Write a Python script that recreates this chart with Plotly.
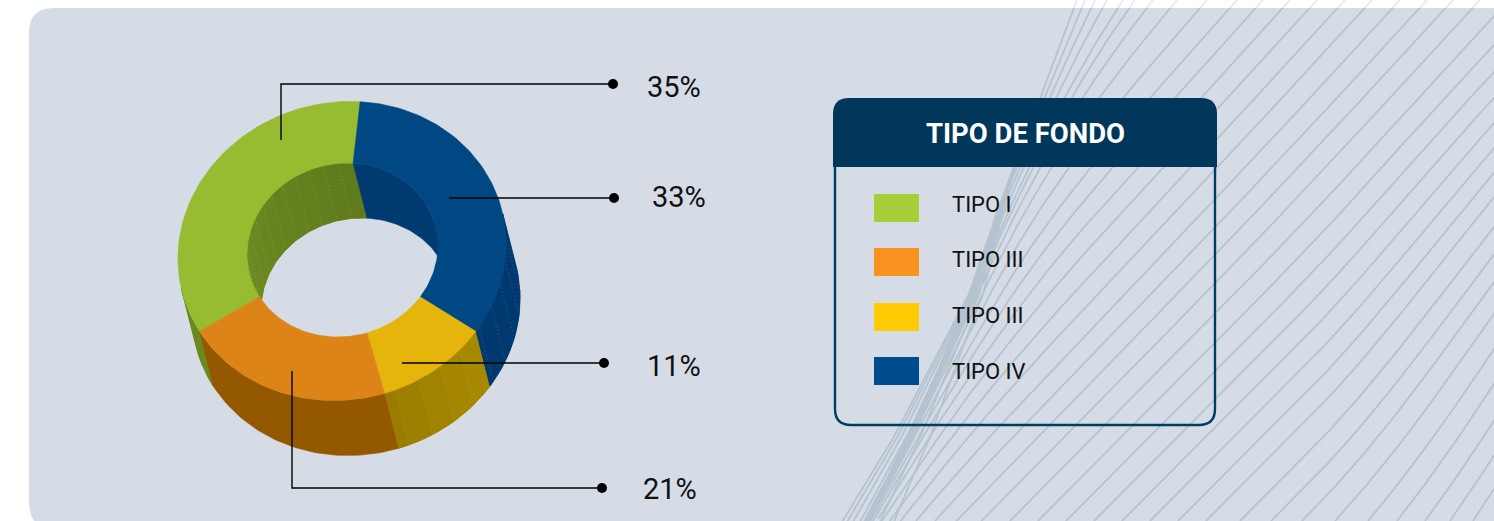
import numpy as np
import plotly.graph_objects as go

# ---- chart data -------------------------------------------------------
categories = ["TIPO I", "TIPO III", "TIPO III", "TIPO IV"]
shares = [35, 21, 11, 33]
face_colors = ["#97bb31", "#dd8418", "#e5b50b", "#004884"]
swatch_colors = ["#a6ce39", "#f7931e", "#ffcb05", "#004b8d"]
outer_wall_colors = [("#5f7b1c", "#6a8a20"), ("#945900", "#945900"),
                     ("#997c00", "#a88a00"), ("#00396f", "#003a72")]
inner_wall_colors = [("#5f7a1c", "#728f22"), ("#945900", "#945900"),
                     ("#997c00", "#997c00"), ("#003a70", "#003a70")]
legend_title = "TIPO DE FONDO"

# ---- donut geometry, in page pixels -----------------------------------
OUTER = dict(cx=342.0, cy=251.0, a=164.0, b=149.5, skew=-3.9)
INNER = dict(cx=342.5, cy=250.0, a=95.5, b=87.0, skew=-2.3)
DEPTH = np.array([14.0, 55.0])
START_DEG = 365.0     # clockwise from twelve o'clock; slices run counter-clockwise
FACET_DEG = 9.0
SEAMED_OUTER = {2, 3}
SEAMED_INNER = {0}
SEAM_COLOR = "rgba(255,255,255,0.12)"
TEXT_FONT = "Roboto"


def ring_point(ring, deg):
    t = np.radians(deg)
    ux, uy = np.sin(t), -np.cos(t)
    return (ring["cx"] + ring["a"] * ux + ring["skew"] * uy,
            ring["cy"] + ring["skew"] * ux + ring["b"] * uy)


def arc(ring, d0, d1, step=1.5):
    n = max(2, int(abs(d1 - d0) / step) + 1)
    return ring_point(ring, np.linspace(d0, d1, n))


def mix(c0, c1, f):
    p = [int(c0[i:i + 2], 16) for i in (1, 3, 5)]
    q = [int(c1[i:i + 2], 16) for i in (1, 3, 5)]
    return "rgb({},{},{})".format(*[round(u + (v - u) * f) for u, v in zip(p, q)])


def wall_visible(ring, deg, inward):
    # a wall facet shows when its normal leans towards the extrusion direction
    x, y = ring_point(ring, deg)
    nx, ny = (x - ring["cx"]) / ring["a"] ** 2, (y - ring["cy"]) / ring["b"] ** 2
    dot = nx * DEPTH[0] + ny * DEPTH[1]
    return dot < 0 if inward else dot > 0


edges = START_DEG - np.cumsum([0] + shares) * 3.6
slices = [(edges[i + 1], edges[i]) for i in range(len(shares))]

fig = go.Figure()


def add_poly(xs, ys, color):
    fig.add_trace(go.Scatter(x=xs, y=ys, mode="lines", fill="toself", fillcolor=color,
                             line=dict(color=color, width=0.6), hoverinfo="skip",
                             showlegend=False))


def wall_poly(ring, d0, d1):
    ax, ay = arc(ring, d0, d1)
    xs = np.concatenate([ax, ax[::-1] + DEPTH[0], ax[:1]])
    ys = np.concatenate([ay, ay[::-1] + DEPTH[1], ay[:1]])
    return xs, ys


def add_walls(ring, palette, inward, seamed):
    for i, (lo, hi) in enumerate(slices):
        stops = np.append(np.arange(lo, hi, FACET_DEG), hi)
        spans = [(d0, d1, k) for k, (d0, d1) in enumerate(zip(stops[:-1], stops[1:]))
                 if wall_visible(ring, (d0 + d1) / 2, inward)]
        if not spans:
            continue
        c0, c1 = palette[i]
        # one solid piece for the slice, shaded facets only where the tone changes
        add_poly(*wall_poly(ring, spans[0][0], spans[-1][1]), mix(c0, c1, 0.5))
        if c0 != c1:
            for d0, d1, k in spans:
                add_poly(*wall_poly(ring, d0, d1), mix(c0, c1, 1 - (k + 0.5) / (len(stops) - 1)))
        if i in seamed:
            sx, sy = [], []
            for d0, _, k in spans[1:]:
                px, py = ring_point(ring, d0)
                sx += [px, px + DEPTH[0], None]
                sy += [py, py + DEPTH[1], None]
            fig.add_trace(go.Scatter(x=sx, y=sy, mode="lines", hoverinfo="skip",
                                     line=dict(color=SEAM_COLOR, width=1, dash="2px,2px"),
                                     showlegend=False))


# ---- hatched background curves ----------------------------------------
ENV_Y = [0, 168, 292, 432, 521]
ENV_X = [1077, 1013, 970, 897, 842]
TOP_STARTS = [1077, 1085, 1095, 1107, 1123, 1135, 1153, 1177, 1207, 1237, 1263, 1290,
              1317, 1345, 1372, 1400, 1427, 1453, 1480]
BOTTOM_STARTS = [1010, 1038, 1066, 1094, 1122, 1150, 1178, 1206, 1240, 1271, 1302,
                 1335, 1368, 1397, 1425, 1450, 1473]
BAND_OFFSETS = [0, 5, 11, 18, 27, 38, 52]
HATCH = "#b5c3d0"


def envelope(y):
    return np.interp(y, ENV_Y, ENV_X)


def hatch_slope(x, y):
    bend = 0.55 * np.clip((x - 1300) / 190, 0, 1) * np.clip((y - 100) / 300, 0, 1)
    drift = 0.1 * np.clip((400 - y) / 400, 0, 1)
    return 1.0 + drift + bend + 1.6 * np.exp(-max(x - envelope(y), 0) / 35)


hx, hy = [], []
for x0 in TOP_STARTS:
    x, y = float(x0), 0.0
    while y < 525 and x >= envelope(y) - 1:
        hx.append(x); hy.append(y)
        s = hatch_slope(x, y)
        x -= 4.0; y += 4.0 * s
    hx.append(None); hy.append(None)
for x0 in BOTTOM_STARTS:
    x, y = float(x0), 521.0
    while y > 0 and x < 1500:
        hx.append(x); hy.append(y)
        s = hatch_slope(x, y)
        x += 4.0; y -= 4.0 * s
    hx.append(None); hy.append(None)
for d in BAND_OFFSETS:
    ys = np.arange(150, 525, 12.0)
    xs = envelope(ys) + d * np.clip((ys - 130) / 391, 0, 1) ** 1.5
    hx += list(xs) + [None]
    hy += list(ys) + [None]
fig.add_trace(go.Scatter(x=hx, y=hy, mode="lines", line=dict(color=HATCH, width=1.8),
                         hoverinfo="skip", showlegend=False))

# ---- donut: side walls first, the top face covers their overflow -------
add_walls(OUTER, outer_wall_colors, False, SEAMED_OUTER)
add_walls(INNER, inner_wall_colors, True, SEAMED_INNER)
for i, (lo, hi) in enumerate(slices):
    ox, oy = arc(OUTER, lo, hi)
    ix, iy = arc(INNER, hi, lo)
    xs = np.concatenate([ox, ix, ox[:1]])
    ys = np.concatenate([oy, iy, oy[:1]])
    add_poly(xs, ys, face_colors[i])

# ---- leader lines and value labels -------------------------------------
LEADERS = [
    ([281, 281, 613], [140, 84, 84], 674, 87),      # TIPO I
    ([292, 292, 602], [371, 488, 488], 669.5, 489), # TIPO III, orange
    ([402, 604], [363, 363], 674, 366),             # TIPO III, yellow
    ([449, 614], [198, 198], 679, 197),             # TIPO IV
]
annotations = []
for value, (lx, ly, tx, ty) in zip(shares, LEADERS):
    fig.add_trace(go.Scatter(x=lx, y=ly, mode="lines", line=dict(color="#000000", width=1.4),
                             hoverinfo="skip", showlegend=False))
    fig.add_trace(go.Scatter(x=lx[-1:], y=ly[-1:], mode="markers",
                             marker=dict(color="#000000", size=10), hoverinfo="skip",
                             showlegend=False))
    annotations.append(dict(x=tx, y=ty, text=f"{value}%", showarrow=False, xanchor="center",
                            yanchor="middle", font=dict(family=TEXT_FONT, size=29,
                                                        color="#111111")))

# ---- legend box --------------------------------------------------------
NAVY = "#00375a"
shapes = [
    dict(type="path", layer="below", line=dict(width=0), fillcolor="#d5dce6",
         path="M29,33 Q29,8 54,8 L1500,8 L1500,530 L54,530 Q29,530 29,500 Z"),
    dict(type="rect", layer="above", x0=54, x1=1494, y0=0, y1=8, line=dict(width=0),
         fillcolor="rgba(255,255,255,0.65)"),
    dict(type="path", layer="above", line=dict(color="#003d63", width=2.4),
         fillcolor="rgba(0,0,0,0)",
         path="M835,160 L835,409 Q835,425 851,425 L1199,425 Q1215,425 1215,409 L1215,160"),
    dict(type="path", layer="above", line=dict(width=0), fillcolor=NAVY,
         path="M833,167 L833,114 Q833,98 849,98 L1201,98 Q1217,98 1217,114 L1217,167 Z"),
]
SWATCH_Y = [194, 248, 303, 357]
TEXT_Y = [204, 259, 315, 371]
for name, color, top, ty in zip(categories, swatch_colors, SWATCH_Y, TEXT_Y):
    shapes.append(dict(type="rect", layer="above", x0=874, x1=919, y0=top, y1=top + 28,
                       line=dict(width=0), fillcolor=color))
    annotations.append(dict(x=950, y=ty, text=name, showarrow=False, xanchor="left",
                            yanchor="middle", font=dict(family=TEXT_FONT, size=22,
                                                        color="#111111")))
annotations.append(dict(x=1025, y=133, text=f"<b>{legend_title}</b>", showarrow=False,
                        xanchor="center", yanchor="middle",
                        font=dict(family=TEXT_FONT, size=27.5, color="#ffffff")))

fig.update_layout(
    width=1494, height=521, margin=dict(l=0, r=0, t=0, b=0),
    paper_bgcolor="#ffffff", plot_bgcolor="rgba(0,0,0,0)", showlegend=False,
    xaxis=dict(range=[0, 1494], visible=False, fixedrange=True),
    yaxis=dict(range=[521, 0], visible=False, fixedrange=True),
    shapes=shapes, annotations=annotations,
)
fig.write_html("out.html", config=dict(displayModeBar=False))
